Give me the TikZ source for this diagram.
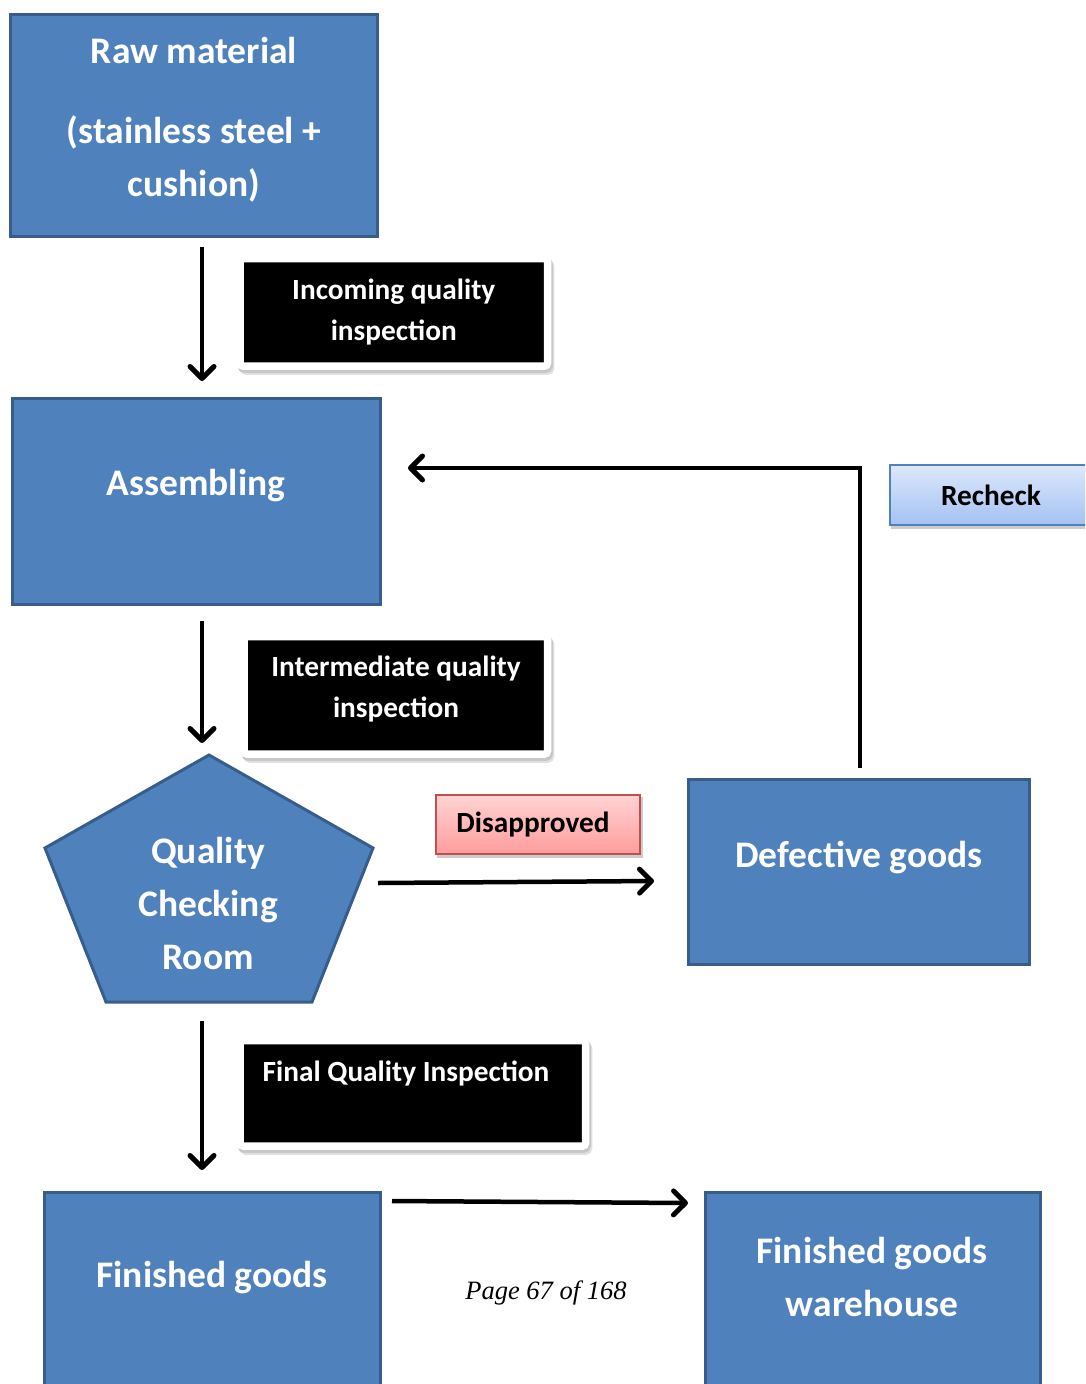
\documentclass[tikz,border=0pt]{standalone}
\usepackage{fontspec}
\setmainfont{Carlito}
\newfontfamily\pagefont{Liberation Serif}
\usetikzlibrary{arrows.meta,calc}
\definecolor{boxblue}{HTML}{4F81BD}
\definecolor{boxedge}{HTML}{385D8A}
\definecolor{rcTop}{HTML}{DDE8FA}
\definecolor{rcBot}{HTML}{A4C2F4}
\definecolor{rcEdge}{HTML}{4F81BD}
\definecolor{dsTop}{HTML}{FFD3D3}
\definecolor{dsBot}{HTML}{FF9C9C}
\definecolor{dsEdge}{HTML}{C0504D}
\begin{document}
\begin{tikzpicture}[x=1pt,y=-1pt,
  bluebox/.style={draw=boxedge, fill=boxblue, line width=3pt, inner sep=0pt, outer sep=0pt},
  bigtext/.style={text=white, font=\fontsize{37.5}{53}\selectfont\bfseries, align=center, inner sep=0pt},
  lbl/.style={fill=black, draw=white, line width=7.5pt, rounded corners=3pt, inner sep=0pt,
    text=white, font=\fontsize{29.3}{41}\selectfont\bfseries, align=center,
    preaction={fill=black!12, draw=black!12, transform canvas={shift={(3pt,-5pt)}}},
    preaction={fill=black!22, draw=black!22, transform canvas={shift={(1.5pt,-3pt)}}}},
  lbltext/.style={text=white, font=\fontsize{29.3}{41}\selectfont\bfseries, align=center, inner sep=0pt},
  tag/.style={line width=2pt, inner sep=0pt, font=\fontsize{29.3}{33}\selectfont\bfseries, text=black,
    preaction={fill=black!20, draw=black!20, transform canvas={shift={(2pt,-3pt)}}}},
  arr/.style={line width=4.5pt, -{Straight Barb[length=12pt,width=24pt,line width=5pt,round]}},
]
\useasboundingbox (0,0) rectangle (1085,1384);
\fill[white] (0,0) rectangle (1085,1384);
\clip (0,0) rectangle (1085,1384);

% main boxes
\node[bluebox, minimum width=367pt, minimum height=222pt] (raw) at (193.5,125) {};
\node[bigtext] (rawt) at (194,119.5) {Raw material\\[27pt](stainless steel +\\cushion)};

\node[bluebox, minimum width=368pt, minimum height=206pt] (asm) at (196,501) {};
\node[bigtext] (asmt) at (196,486) {Assembling};

\node[inner sep=0pt, outer sep=0pt, minimum width=328pt, minimum height=247pt] (qc) at (209,878.5) {};
\draw[bluebox] (qc.north) -- ($(qc.north west)!0.3765!(qc.south west)$)
  -- ($(qc.south west)!0.186!(qc.south east)$) -- ($(qc.south west)!0.814!(qc.south east)$)
  -- ($(qc.north east)!0.3765!(qc.south east)$) -- cycle;
\node[bigtext] (qct) at (208,903) {Quality\\Checking\\Room};

\node[bluebox, minimum width=341pt, minimum height=185pt] (def) at (858.5,871.5) {};
\node[bigtext] (deft) at (859,857) {Defective goods};

\node[bluebox, minimum width=336pt, minimum height=208pt] (fg) at (212,1296) {};
\node[bigtext] (fgt) at (212,1278) {Finished goods};

\node[bluebox, minimum width=335pt, minimum height=208pt] (wh) at (872.5,1296) {};
\node[bigtext] (wht) at (872,1277) {Finished goods\\warehouse};

% black labels
\node[lbl, minimum width=307.5pt, minimum height=107.5pt] (inc) at (393.75,312.25) {Incoming quality\\inspection};
\node[lbl, minimum width=303.5pt, minimum height=117.5pt] (imd) at (395.75,695.25) {};
\node[lbltext] (imdt) at (396,689.5) {Intermediate quality\\inspection};
\node[lbl, minimum width=345.5pt, minimum height=105.5pt] (fin) at (412.75,1093.25) {};
\node[lbltext] (fint) at (406,1073) {Final Quality Inspection};

% tags
\node[tag, draw=dsEdge, top color=dsTop, bottom color=dsBot, minimum width=204pt, minimum height=59pt] (dis) at (538,824.5) {\hspace*{-10pt}Disapproved};
\node[tag, draw=rcEdge, top color=rcTop, bottom color=rcBot, minimum width=205pt, minimum height=60pt] (rc) at (992.5,495) {\hspace*{-3pt}Recheck};

% connectors
\draw[arr] ([xshift=8.5pt,yshift=-11pt]raw.south) -- ([xshift=6pt,yshift=17pt]asm.north);
\draw[arr] ([xshift=6pt,yshift=-17pt]asm.south) -- ([xshift=-7pt,yshift=12pt]qc.north);
\draw[arr] ([xshift=5pt,yshift=-4.5pt]qc.east) -- ([xshift=-34pt,yshift=-9.5pt]def.west);
\draw[arr] ([xshift=1.5pt,yshift=11pt]def.north) |- ([xshift=28pt,yshift=33pt]asm.east);
\draw[arr] ([xshift=-7pt,yshift=-19pt]qc.south) -- ([xshift=-10pt,yshift=22pt]fg.north);
\draw[arr] ([xshift=12pt,yshift=-9pt]fg.north east) -- ([xshift=-17pt,yshift=-11pt]wh.north west);

\node[font=\pagefont\itshape\fontsize{26.5}{30}\selectfont, inner sep=0pt] (pg) at (546,1293) {Page 67 of 168};
\end{tikzpicture}
\end{document}
